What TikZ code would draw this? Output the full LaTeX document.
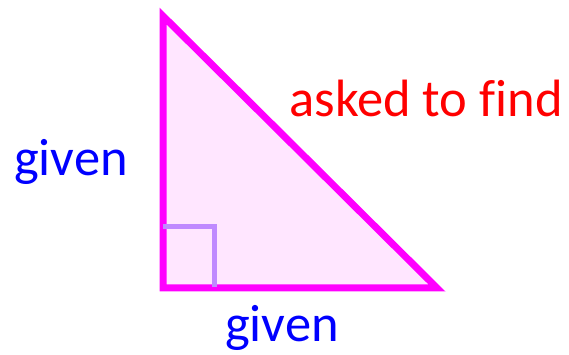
\documentclass[tikz,border=0pt]{standalone}
\usepackage{fontspec}
\setmainfont{Carlito}[Ligatures=NoCommon]
\usepackage{tikz}
\usetikzlibrary{positioning}
\definecolor{trimagenta}{RGB}{255,0,255}
\definecolor{trifill}{RGB}{255,230,255}
\definecolor{anglelav}{RGB}{191,138,255}
\definecolor{givenblue}{RGB}{0,0,255}
\definecolor{findred}{RGB}{255,0,0}

\begin{document}
\begin{tikzpicture}[
    x=1pt, y=1pt,
    triside/.style={draw=trimagenta, line width=7pt, fill=trifill, line join=miter},
    rightmark/.style={draw=anglelav, line width=5pt},
    lbl/.style={font=\fontsize{52.5}{60}\selectfont, inner sep=0pt, anchor=base}
]
\useasboundingbox (0,0) rectangle (569,355);

\coordinate (top)   at (163,339);
\coordinate (right) at (437,67);
\coordinate (corner) at (163,67);
\coordinate (m1) at (163,128.5);
\coordinate (m2) at (214.5,128.5);
\coordinate (m3) at (214.5,68);

\draw[triside] (top) -- (corner) -- (right) -- cycle;
\draw[rightmark] (m1) -- (m2) -- (m3);

\node[lbl, text=givenblue] (gleft)   at (71,179)  {given};
\node[lbl, text=givenblue] (gbottom) at (282,13)  {given};
\node[lbl, text=findred]   (asked)   at (426,238) {asked to find};
\end{tikzpicture}
\end{document}
